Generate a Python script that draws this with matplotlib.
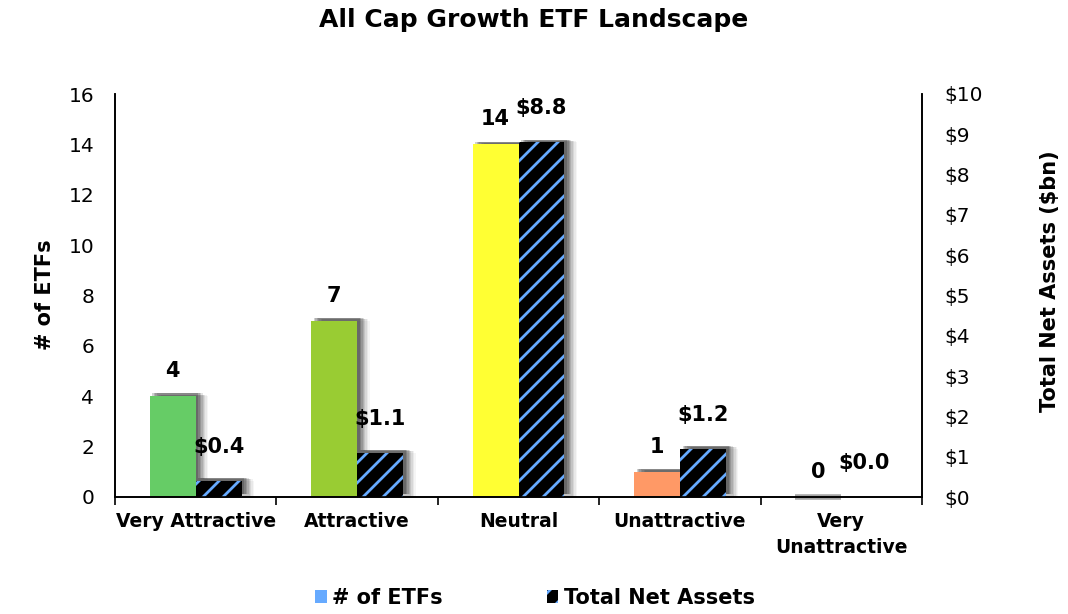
import matplotlib
matplotlib.use("Agg")
import matplotlib.pyplot as plt
import matplotlib.patheffects as pe
import matplotlib.hatch as mhatch
from matplotlib.patches import Patch
import numpy as np

plt.rcParams['font.family'] = ['DejaVu Sans']
plt.rcParams['hatch.linewidth'] = 2.0


# denser diagonal stripes than the built-in '/' pattern (even count keeps the tile seamless)
def _ne_init(self, hatch, density):
    n = hatch.count('/') + hatch.count('x') + hatch.count('X')
    self.num_lines = int(round(n * density * 10 / 6))
    if self.num_lines % 2:
        self.num_lines += 1
    self.num_vertices = (self.num_lines + 1) * 2 if self.num_lines else 0


mhatch.NorthEastHatch.__init__ = _ne_init

categories = ["Very Attractive", "Attractive", "Neutral", "Unattractive", "Very\nUnattractive"]
num_etfs = [4, 7, 14, 1, 0]
net_assets = [0.4, 1.1, 8.8, 1.2, 0.0]
bar_colors = ["#66CC66", "#99CC33", "#FFFF33", "#FF9966", "#A6A6A6"]
left_ticks = [0, 2, 4, 6, 8, 10, 12, 14, 16]
right_ticks = list(range(0, 11))

W, H = 1068, 614
fig = plt.figure(figsize=(W/100, H/100), dpi=100)
ax = fig.add_axes([115/W, 1 - 497/H, (922-115)/W, (497-94)/H])
ax2 = ax.twinx()

x = np.arange(len(categories))
w = 0.285

def shadow_effects():
    effs = []
    for dx, dy, a in [(9, 0, 0.04), (8, 1, 0.05), (7, 1, 0.07), (6, 1, 0.09), (5, 2, 0.11),
                      (4, 2, 0.13), (3, 2, 0.15), (2, 2, 0.18)]:
        effs.append(pe.SimplePatchShadow(offset=(dx, dy), shadow_rgbFace='black', alpha=a))
    effs.append(pe.Normal())
    return effs

# count bars (with shadow)
lws = [0 if v > 0 else 4 for v in num_etfs]
b1 = ax.bar(x - w/2, num_etfs, w, color=bar_colors, edgecolor=bar_colors, linewidth=lws, zorder=3)
for b, v in zip(b1, num_etfs):
    if v > 0:
        b.set_path_effects(shadow_effects())
    else:
        b.set_clip_on(False)

# net assets: shadow base, then hatched bar on top
base = ax2.bar(x + w/2, net_assets, w, color='black', linewidth=0, zorder=3)
for b in base:
    b.set_path_effects(shadow_effects())
b2 = ax2.bar(x + w/2, net_assets, w, color='black', edgecolor='#66AAFF', linewidth=0,
             hatch='/', zorder=4)

px = 72 / 100
for xi, v in zip(x, num_etfs):
    ax.annotate(f"{v}", (xi - w/2, v), xytext=(0, 25 * px), textcoords='offset points',
                ha='center', va='center', fontsize=15, fontweight='bold')
for xi, v in zip(x, net_assets):
    ax2.annotate(f"${v:.1f}", (xi + w/2, v), xytext=(0, 34 * px), textcoords='offset points',
                 ha='center', va='center', fontsize=15, fontweight='bold')

ax.set_xlim(-0.5, len(categories) - 0.5)
ax.set_ylim(0, 16)
ax2.set_ylim(0, 10)
ax.set_yticks(left_ticks)
ax.set_yticklabels([str(t) for t in left_ticks], fontsize=14.5)
ax2.set_yticks(right_ticks)
ax2.set_yticklabels([f"${t}" for t in right_ticks], fontsize=14.5)
ax.tick_params(axis='y', length=0, pad=15)
ax2.tick_params(axis='y', length=0, pad=16)

ax.set_xticks(x)
ax.set_xticklabels(categories, fontsize=13.5, fontweight='bold', linespacing=1.45)
ax.tick_params(axis='x', length=0, pad=11)
ax.set_xticks(np.arange(-0.5, len(categories)), minor=True)
ax.tick_params(axis='x', which='minor', length=6, direction='out', width=1.2)

for a in (ax, ax2):
    a.spines['top'].set_visible(False)
    for s in ('left', 'right', 'bottom'):
        a.spines[s].set_color('black')
        a.spines[s].set_linewidth(1.2)
        a.spines[s].set_zorder(5)

fig.text(45/W, 1 - 295/H, "# of ETFs", rotation=90, ha='center', va='center',
         fontsize=15, fontweight='bold')
fig.text(1050/W, 1 - 281/H, "Total Net Assets ($bn)", rotation=90, ha='center', va='center',
         fontsize=15, fontweight='bold')

fig.text(534/W, 1 - 20/H, "All Cap Growth ETF Landscape", ha='center', va='center',
         fontsize=18, fontweight='bold')

handles = [Patch(facecolor='#66AAFF', edgecolor='none', label='# of ETFs'),
           Patch(facecolor='black', edgecolor='#66AAFF', hatch='/', linewidth=0, label='Total Net Assets')]
fig.legend(handles=handles, loc='center', bbox_to_anchor=(535/W, 1 - 598/H), ncol=2,
           frameon=False, prop={'size': 15, 'weight': 'bold'}, handlelength=0.55,
           handleheight=0.55, handletextpad=0.25, columnspacing=5.0, borderpad=0)

fig.savefig("out.png", dpi=100)
